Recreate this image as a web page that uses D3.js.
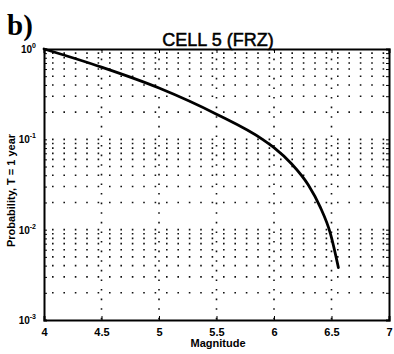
<!DOCTYPE html>
<html>
<head>
<meta charset="UTF-8">
<title>CELL 5 (FRZ)</title>
<script src="https://d3js.org/d3.v7.min.js"></script>
<style>
  body { margin: 0; background: #fff; }
  svg { display: block; font-family: "Liberation Sans", Arial, sans-serif; }
  .grid line { stroke: #111; stroke-width: 1.6; }
</style>
</head>
<body>
<svg width="394" height="354"></svg>
<script>
// annual exceedance probability vs magnitude
const magnitude = [4.0, 4.5, 5.0, 5.5, 5.9, 6.0, 6.15, 6.3, 6.4, 6.49, 6.56];
const probability = [1, 0.63, 0.37, 0.19, 0.10, 0.081, 0.054, 0.031, 0.018, 0.0091, 0.0038];

const xTicks = [4, 4.5, 5, 5.5, 6, 6.5, 7];
const yDecades = [1, 0.1, 0.01, 0.001];
const yExponents = ["0", "-1", "-2", "-3"];

const width = 394, height = 354;
const margin = { top: 49, right: 5, bottom: 34, left: 44 };

const x = d3.scaleLinear().domain([4, 7]).range([margin.left, width - margin.right]);
const y = d3.scaleLog().domain([0.001, 1]).range([height - margin.bottom, margin.top]);

const svg = d3.select("svg");

// minor log lines 1..9 x 10^k
const yMinor = [];
[0.001, 0.01, 0.1].forEach(d => { for (let k = 1; k <= 9; k++) yMinor.push(d * k); });

const grid = svg.append("g").attr("class", "grid");
grid.selectAll(".h").data(yMinor.filter(v => v > 0.001)).enter().append("line")
  .attr("x1", x(4)).attr("x2", x(7))
  .attr("y1", d => y(d)).attr("y2", d => y(d))
  .attr("stroke-dasharray", "1.6,9.8")
  .attr("stroke-dashoffset", -8);
grid.selectAll(".v").data(xTicks.slice(1, -1)).enter().append("line")
  .attr("x1", d => x(d)).attr("x2", d => x(d))
  .attr("y1", y(1)).attr("y2", y(0.001))
  .attr("stroke-dasharray", "1.6,8");

// axes with inward ticks on all four sides
const fmt = d3.format("");
svg.append("g")
  .attr("transform", `translate(0,${y(0.001)})`)
  .call(d3.axisBottom(x).tickValues(xTicks).tickSize(-4).tickPadding(8).tickFormat(fmt))
  .call(g => g.select(".domain").attr("stroke-width", 2))
  .call(g => g.selectAll("text").attr("font-size", 11).attr("font-weight", "bold").attr("fill", "#000"));
svg.append("g")
  .attr("transform", `translate(0,${y(1)})`)
  .call(d3.axisTop(x).tickValues(xTicks).tickSize(-4).tickFormat(""))
  .call(g => g.select(".domain").attr("stroke-width", 2));

svg.append("g")
  .attr("transform", `translate(${x(4)},0)`)
  .call(d3.axisLeft(y).tickValues(yMinor).tickSize(-3).tickFormat(""))
  .call(g => g.select(".domain").attr("stroke-width", 2));
svg.append("g")
  .attr("transform", `translate(${x(7)},0)`)
  .call(d3.axisRight(y).tickValues(yMinor).tickSize(-3).tickFormat(""))
  .call(g => g.select(".domain").attr("stroke-width", 2));

// decade labels 10^k
const yl = svg.append("g").attr("font-weight", "bold").attr("fill", "#000");
yDecades.forEach((d, i) => {
  const t = yl.append("text")
    .attr("x", x(4) - 8)
    .attr("y", y(d) + 4)
    .attr("text-anchor", "end")
    .attr("font-size", 10);
  t.append("tspan").text("10");
  t.append("tspan").attr("dy", -5).attr("font-size", 7).text(yExponents[i]);
});

// the curve
svg.append("path")
  .datum(magnitude.map((m, i) => [m, probability[i]]))
  .attr("fill", "none")
  .attr("stroke", "#000")
  .attr("stroke-width", 2.8)
  .attr("stroke-linecap", "round")
  .attr("d", d3.line().x(d => x(d[0])).y(d => y(d[1])).curve(d3.curveMonotoneX));

// titles
svg.append("text")
  .attr("x", 218).attr("y", 46)
  .attr("text-anchor", "middle")
  .attr("font-size", 18)
  .attr("stroke", "#000")
  .attr("stroke-width", 0.5)
  .text("CELL 5 (FRZ)");

svg.append("text")
  .attr("x", 7).attr("y", 35)
  .attr("font-family", "Liberation Serif, Times New Roman, serif")
  .attr("font-weight", "bold")
  .attr("font-size", 29)
  .text("b)");

svg.append("text")
  .attr("transform", `translate(15,${(y(1) + y(0.001)) / 2 + 6}) rotate(-90)`)
  .attr("text-anchor", "middle")
  .attr("font-size", 11)
  .attr("font-weight", "bold")
  .text("Probability, T = 1 year");

svg.append("text")
  .attr("x", 218).attr("y", 347)
  .attr("text-anchor", "middle")
  .attr("font-size", 11)
  .attr("font-weight", "bold")
  .text("Magnitude");
</script>
</body>
</html>
